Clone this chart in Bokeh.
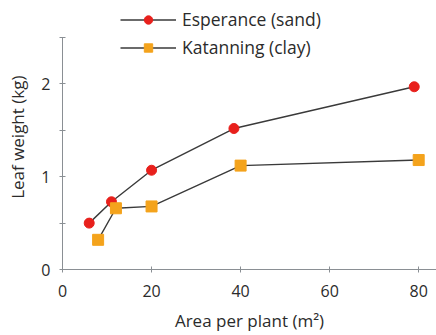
from bokeh.plotting import figure
from bokeh.models import FixedTicker, Legend, LegendItem, Range1d
from bokeh.embed import file_html
from bokeh.resources import INLINE

esp_x = [6, 11, 20, 38.5, 79]
esp_y = [0.50, 0.73, 1.07, 1.52, 1.97]
kat_x = [8, 12, 20, 40, 80]
kat_y = [0.32, 0.66, 0.68, 1.12, 1.18]
x_ticks = [0, 20, 40, 60, 80]
y_ticks = [0, 1, 2]
y_minor = [0.5, 1.5, 2.5]

FONT = "Open Sans"
TXT = "#2b2b2b"
AX = "#8a8f94"

p = figure(width=436, height=335, output_backend="svg", toolbar_location=None,
           x_range=Range1d(0, 84.0), y_range=Range1d(0, 2.9),
           min_border_left=62, min_border_right=0, min_border_top=0, min_border_bottom=66)
p.outline_line_color = None
p.grid.grid_line_color = None
p.background_fill_color = "white"
p.border_fill_color = "white"

for ax in (p.xaxis[0], p.yaxis[0]):
    ax.axis_line_color = AX
    ax.major_tick_line_color = AX
    ax.minor_tick_line_color = AX
    ax.major_tick_in = 3
    ax.major_tick_out = 3
    ax.minor_tick_in = 3
    ax.minor_tick_out = 3
    ax.major_label_text_font = FONT
    ax.major_label_text_font_size = "16px"
    ax.major_label_text_color = TXT
    ax.axis_label_text_font = FONT
    ax.axis_label_text_font_size = "17px"
    ax.axis_label_text_font_style = "normal"
    ax.axis_label_text_color = TXT

p.yaxis.bounds = (0, 2.5)
p.xaxis.ticker = FixedTicker(ticks=x_ticks)
p.yaxis.ticker = FixedTicker(ticks=y_ticks, minor_ticks=y_minor)
p.xaxis.major_label_standoff = 12
p.yaxis.major_label_standoff = 9
p.xaxis.axis_label = "Area per plant (m²)"
p.yaxis.axis_label = "Leaf weight  (kg)"
p.xaxis.axis_label_standoff = 9
p.yaxis.axis_label_standoff = 9

LINE = "#3a3a3a"
e_line = p.line(esp_x, esp_y, line_color=LINE, line_width=1.4)
e_pts = p.scatter(esp_x, esp_y, marker="circle", size=10, fill_color="#e8201c", line_color="#e8201c")
k_line = p.line(kat_x, kat_y, line_color=LINE, line_width=1.4)
k_pts = p.scatter(kat_x, kat_y, marker="square", size=11, fill_color="#f4a31c", line_color="#f4a31c")

legend = Legend(items=[LegendItem(label="Esperance (sand)", renderers=[e_line, e_pts]),
                       LegendItem(label="Katanning (clay)", renderers=[k_line, k_pts])],
                location=(58, 210), glyph_width=56, glyph_height=21,
                label_text_font=FONT, label_text_font_size="17.5px", label_text_color=TXT,
                label_standoff=6, spacing=4, padding=0, margin=0,
                border_line_color=None, background_fill_alpha=0)
p.add_layout(legend, "center")

open("out.html", "w").write(file_html(p, INLINE))
